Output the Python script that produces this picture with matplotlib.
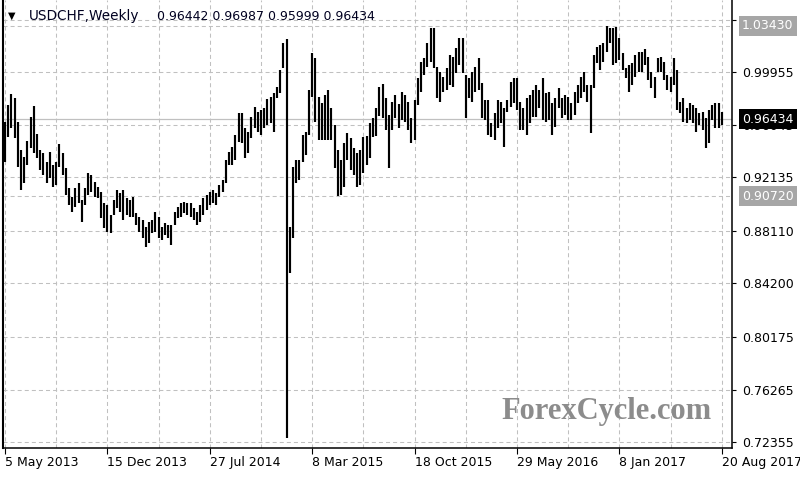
import numpy as np
import pandas as pd
import matplotlib
matplotlib.use('Agg')
import matplotlib.pyplot as plt
import matplotlib.dates as mdates
import matplotlib.transforms as mtrans

plt.rcParams['font.family'] = ['DejaVu Sans']
plt.rcParams['lines.scale_dashes'] = False

# weekly USDCHF bars, first bar 5 May 2013
first_week = '2013-05-05'
highs = [
    0.9626, 0.9751, 0.9833, 0.9803, 0.9624, 0.9415, 0.9363, 0.9482, 0.9661, 0.9743,
    0.9534, 0.9415, 0.9393, 0.9325, 0.9400, 0.9303, 0.9325, 0.9460, 0.9393, 0.9281,
    0.9131, 0.9064, 0.9131, 0.9169, 0.9042, 0.9131, 0.9243, 0.9229, 0.9176, 0.9139,
    0.9102, 0.9020, 0.9005, 0.8930, 0.9042, 0.9117, 0.9094, 0.9117, 0.9057, 0.9042,
    0.9064, 0.8945, 0.8916, 0.8893, 0.8841, 0.8878, 0.8893, 0.8953, 0.8916, 0.8841,
    0.8870, 0.8856, 0.8856, 0.8953, 0.8990, 0.9020, 0.9027, 0.9020, 0.9020, 0.8982,
    0.8953, 0.9005, 0.9057, 0.9079, 0.9102, 0.9117, 0.9094, 0.9154, 0.9191, 0.9340,
    0.9400, 0.9437, 0.9527, 0.9691, 0.9691, 0.9579, 0.9549, 0.9661, 0.9736, 0.9698,
    0.9713, 0.9728, 0.9795, 0.9810, 0.9840, 0.9885, 1.0012, 1.0213, 1.0240, 0.8841,
    0.9288, 0.9340, 0.9340, 0.9527, 0.9549, 0.9863, 1.0138, 1.0101, 0.9810, 0.9766,
    0.9825, 0.9863, 0.9728, 0.9601, 0.9415, 0.9340, 0.9467, 0.9542, 0.9505, 0.9430,
    0.9393, 0.9415, 0.9512, 0.9519, 0.9616, 0.9654, 0.9728, 0.9885, 0.9907, 0.9803,
    0.9676, 0.9773, 0.9825, 0.9758, 0.9848, 0.9825, 0.9773, 0.9654, 0.9788, 0.9952,
    1.0071, 1.0101, 1.0213, 1.0325, 1.0328, 1.0034, 0.9997, 0.9960, 1.0027, 1.0124,
    1.0109, 1.0176, 1.0250, 1.0250, 0.9974, 0.9952, 0.9997, 1.0034, 1.0101, 0.9915,
    0.9788, 0.9788, 0.9616, 0.9691, 0.9788, 0.9773, 0.9728, 0.9788, 0.9922, 0.9952,
    0.9952, 0.9773, 0.9728, 0.9803, 0.9825, 0.9863, 0.9900, 0.9863, 0.9952, 0.9840,
    0.9848, 0.9766, 0.9803, 0.9878, 0.9803, 0.9825, 0.9810, 0.9766, 0.9848, 0.9900,
    0.9960, 0.9997, 0.9900, 0.9900, 1.0124, 1.0183, 1.0198, 1.0213, 1.0343, 1.0325,
    1.0325, 1.0333, 1.0250, 1.0138, 1.0027, 1.0049, 1.0064, 1.0124, 1.0146, 1.0146,
    1.0168, 1.0109, 0.9997, 0.9960, 1.0101, 1.0109, 1.0071, 0.9974, 0.9960, 1.0101,
    1.0012, 0.9773, 0.9803, 0.9728, 0.9766, 0.9751, 0.9728, 0.9691, 0.9698, 0.9654,
    0.9713, 0.9751, 0.9766, 0.9766, 0.96987,
]
lows = [
    0.9323, 0.9512, 0.9579, 0.9505, 0.9288, 0.9117, 0.9169, 0.9303, 0.9430, 0.9393,
    0.9355, 0.9266, 0.9229, 0.9169, 0.9206, 0.9139, 0.9154, 0.9288, 0.9229, 0.9079,
    0.9005, 0.8953, 0.8990, 0.9020, 0.8878, 0.9005, 0.9079, 0.9102, 0.9064, 0.9057,
    0.8908, 0.8833, 0.8803, 0.8796, 0.8930, 0.8982, 0.8953, 0.8893, 0.8930, 0.8916,
    0.8916, 0.8856, 0.8803, 0.8758, 0.8691, 0.8721, 0.8796, 0.8803, 0.8758, 0.8744,
    0.8781, 0.8758, 0.8706, 0.8856, 0.8908, 0.8916, 0.8945, 0.8930, 0.8916, 0.8893,
    0.8856, 0.8878, 0.8930, 0.8968, 0.9005, 0.9020, 0.9005, 0.9064, 0.9102, 0.9169,
    0.9303, 0.9303, 0.9340, 0.9475, 0.9467, 0.9355, 0.9393, 0.9505, 0.9579, 0.9549,
    0.9527, 0.9579, 0.9601, 0.9616, 0.9549, 0.9803, 0.9840, 1.0027, 0.7270, 0.8497,
    0.8758, 0.9169, 0.9191, 0.9325, 0.9378, 0.9527, 0.9810, 0.9624, 0.9490, 0.9490,
    0.9490, 0.9490, 0.9490, 0.9281, 0.9072, 0.9079, 0.9139, 0.9340, 0.9266, 0.9229,
    0.9139, 0.9154, 0.9243, 0.9303, 0.9355, 0.9512, 0.9519, 0.9669, 0.9654, 0.9564,
    0.9281, 0.9564, 0.9654, 0.9579, 0.9639, 0.9624, 0.9564, 0.9467, 0.9490, 0.9751,
    0.9848, 0.9974, 1.0034, 1.0071, 1.0027, 0.9803, 0.9773, 0.9848, 0.9863, 0.9900,
    0.9885, 0.9989, 1.0049, 0.9989, 0.9654, 0.9803, 0.9773, 0.9848, 0.9863, 0.9654,
    0.9639, 0.9527, 0.9512, 0.9490, 0.9579, 0.9616, 0.9437, 0.9698, 0.9736, 0.9766,
    0.9713, 0.9564, 0.9564, 0.9527, 0.9616, 0.9661, 0.9661, 0.9728, 0.9639, 0.9624,
    0.9639, 0.9527, 0.9587, 0.9728, 0.9654, 0.9676, 0.9639, 0.9639, 0.9676, 0.9766,
    0.9803, 0.9848, 0.9773, 0.9542, 0.9878, 1.0064, 1.0012, 1.0071, 1.0146, 1.0213,
    1.0049, 1.0064, 1.0086, 1.0012, 0.9952, 0.9848, 0.9900, 0.9960, 0.9997, 0.9997,
    1.0049, 0.9937, 0.9878, 0.9803, 0.9997, 0.9997, 0.9937, 0.9863, 0.9848, 0.9900,
    0.9713, 0.9691, 0.9624, 0.9616, 0.9639, 0.9616, 0.9549, 0.9601, 0.9564, 0.9430,
    0.9467, 0.9639, 0.9579, 0.9579, 0.95999,
]
last_ohlc = [0.96442, 0.96987, 0.95999, 0.96434]
price_ticks = [0.72355, 0.76265, 0.80175, 0.84200, 0.88110, 0.92135, 0.96045, 0.99955, 1.03865]
level_lines = [1.03430, 0.90720]

dates = pd.date_range(first_week, periods=len(highs), freq='W-SUN')
xd = mdates.date2num(dates)

W, H = 800, 480
fig = plt.figure(figsize=(8, 4.8), dpi=100)
fig.patch.set_facecolor('white')
ax = fig.add_axes([3 / W, 1 - 448 / H, 729 / W, 448 / H])
ax.set_facecolor('white')

ax.set_xlim(xd[0] - 4.4, xd[0] + 1590.3)
ax.set_ylim(0.71930, 1.05338)

gray = '#c0c0c0'
dash = dict(color=gray, lw=0.75, dashes=(2.9, 2.2), zorder=0)
for d in xd[::16]:
    ax.axvline(d, **dash)
for p in price_ticks:
    ax.axhline(p, **dash)
for p in level_lines:
    ax.axhline(p, **dash)
ax.axhline(last_ohlc[3], color=gray, lw=0.9, zorder=1)

ax.vlines(xd, lows, highs, colors='black', linewidth=1.55, zorder=3)

# axes look
ax.spines['top'].set_visible(False)
for s in ['left', 'right', 'bottom']:
    ax.spines[s].set_linewidth(1.1)
    ax.spines[s].set_color('black')
ax.spines['left'].set_linewidth(1.5)

ax.yaxis.tick_right()
ax.set_yticks(price_ticks)
ax.set_yticklabels([f'{p:.5f}' for p in price_ticks])
ax.tick_params(axis='y', direction='out', length=3, width=0.8, pad=4,
               labelsize=9, colors='black')

lab_dates = dates[::32]
ax.set_xticks(xd[::32])
ax.set_xticklabels([f"{d.day} {d.strftime('%b %Y')}" for d in lab_dates],
                   ha='left')
ax.tick_params(axis='x', direction='out', length=4, width=0.8, pad=2,
               labelsize=9, colors='black')

# price tags on the right scale
tag_tr = mtrans.blended_transform_factory(ax.transAxes, ax.transData)
tags = [(level_lines[0], '#a6a6a6'), (last_ohlc[3], 'black'), (level_lines[1], '#a6a6a6')]
for val, fc in tags:
    ax.annotate(f'{val:.5f}', xy=(1, val), xycoords=tag_tr,
                xytext=(7.2, 0), textcoords='offset points',
                ha='left', va='center', fontsize=9, color='white',
                bbox=dict(boxstyle='square,pad=0.28', fc=fc, ec='none'),
                annotation_clip=False, zorder=10)

# header
fig.text(8 / W, 1 - 16 / H, '\u25bc', fontsize=7, color='black', va='center')
fig.text(29 / W, 1 - 16 / H, 'USDCHF,Weekly', fontsize=9.8, color='#000020', va='center')
fig.text(157 / W, 1 - 16 / H, ' '.join(f'{v:.5f}' for v in last_ohlc),
         fontsize=9, color='#000020', va='center')

# watermark
fig.text(606 / W, 1 - 412 / H, 'ForexCycle.com', fontsize=22, fontweight='bold',
         family='Liberation Serif', color='#8c8c8c', ha='center', va='center')

fig.savefig('out.png', dpi=100)
